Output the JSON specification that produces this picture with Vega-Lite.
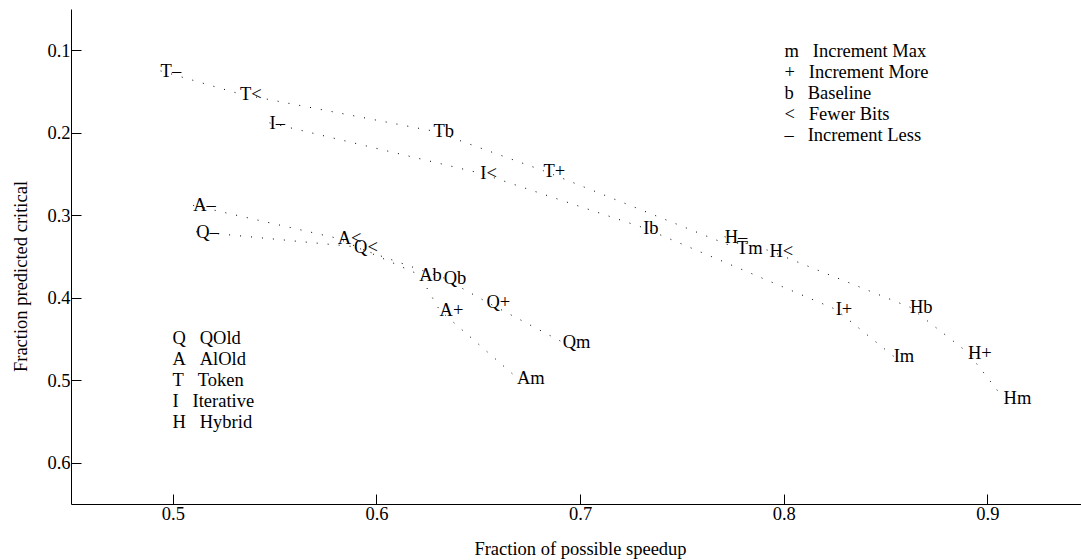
{
  "$schema": "https://vega.github.io/schema/vega-lite/v6.json",
  "width": 1010,
  "height": 495,
  "autosize": {"type": "none"},
  "padding": {"left": 71, "top": 9, "right": 0, "bottom": 56},
  "background": "white",
  "config": {
    "view": {"stroke": null},
    "font": "Liberation Serif",
    "axis": {
      "grid": false,
      "domainColor": "#000",
      "domainWidth": 1,
      "tickColor": "#000",
      "tickSize": -10,
      "tickWidth": 1,
      "labelFont": "Liberation Serif",
      "labelFontSize": 18.5,
      "labelColor": "#000",
      "titleFont": "Liberation Serif",
      "titleFontSize": 18.5,
      "titleFontWeight": "normal",
      "titleColor": "#000"
    },
    "legend": {
      "labelFont": "Liberation Serif",
      "labelFontSize": 18.5,
      "labelColor": "#000",
      "symbolSize": 0,
      "symbolStrokeWidth": 0,
      "symbolOpacity": 0,
      "labelOffset": 0,
      "padding": 0,
      "rowPadding": 2,
      "orient": "none"
    }
  },
  "data": {
    "values": [
      {"method": "Token", "variant": "Increment Less", "label": "T–", "speedup": 0.494, "critical": 0.125},
      {"method": "Token", "variant": "Fewer Bits", "label": "T<", "speedup": 0.533, "critical": 0.153},
      {"method": "Token", "variant": "Baseline", "label": "Tb", "speedup": 0.628, "critical": 0.198},
      {"method": "Token", "variant": "Increment More", "label": "T+", "speedup": 0.682, "critical": 0.246},
      {"method": "Token", "variant": "Increment Max", "label": "Tm", "speedup": 0.777, "critical": 0.340},
      {"method": "Iterative", "variant": "Increment Less", "label": "I–", "speedup": 0.5475, "critical": 0.188},
      {"method": "Iterative", "variant": "Fewer Bits", "label": "I<", "speedup": 0.651, "critical": 0.249},
      {"method": "Iterative", "variant": "Baseline", "label": "Ib", "speedup": 0.731, "critical": 0.315},
      {"method": "Iterative", "variant": "Increment More", "label": "I+", "speedup": 0.8255, "critical": 0.414},
      {"method": "Iterative", "variant": "Increment Max", "label": "Im", "speedup": 0.854, "critical": 0.471},
      {"method": "Hybrid", "variant": "Increment Less", "label": "H–", "speedup": 0.771, "critical": 0.326},
      {"method": "Hybrid", "variant": "Fewer Bits", "label": "H<", "speedup": 0.793, "critical": 0.343},
      {"method": "Hybrid", "variant": "Baseline", "label": "Hb", "speedup": 0.862, "critical": 0.4115},
      {"method": "Hybrid", "variant": "Increment More", "label": "H+", "speedup": 0.8905, "critical": 0.4665},
      {"method": "Hybrid", "variant": "Increment Max", "label": "Hm", "speedup": 0.908, "critical": 0.522},
      {"method": "AlOld", "variant": "Increment Less", "label": "A–", "speedup": 0.510, "critical": 0.288},
      {"method": "AlOld", "variant": "Fewer Bits", "label": "A<", "speedup": 0.581, "critical": 0.328},
      {"method": "AlOld", "variant": "Baseline", "label": "Ab", "speedup": 0.621, "critical": 0.372},
      {"method": "AlOld", "variant": "Increment More", "label": "A+", "speedup": 0.631, "critical": 0.415},
      {"method": "AlOld", "variant": "Increment Max", "label": "Am", "speedup": 0.669, "critical": 0.497},
      {"method": "QOld", "variant": "Increment Less", "label": "Q–", "speedup": 0.5115, "critical": 0.320},
      {"method": "QOld", "variant": "Fewer Bits", "label": "Q<", "speedup": 0.589, "critical": 0.338},
      {"method": "QOld", "variant": "Baseline", "label": "Qb", "speedup": 0.633, "critical": 0.376},
      {"method": "QOld", "variant": "Increment More", "label": "Q+", "speedup": 0.654, "critical": 0.405},
      {"method": "QOld", "variant": "Increment Max", "label": "Qm", "speedup": 0.6915, "critical": 0.454}
    ]
  },
  "encoding": {
    "x": {
      "field": "speedup",
      "type": "quantitative",
      "scale": {"domain": [0.45, 0.946], "nice": false, "zero": false},
      "axis": {
        "title": "Fraction of possible speedup",
        "values": [0.5, 0.6, 0.7, 0.8, 0.9],
        "format": ".1f",
        "labelPadding": 10,
        "titleX": 509,
        "titleY": 44,
        "titleBaseline": "middle",
        "titleAlign": "center"
      }
    },
    "y": {
      "field": "critical",
      "type": "quantitative",
      "scale": {"domain": [0.05, 0.65], "reverse": true, "nice": false, "zero": false},
      "axis": {
        "title": "Fraction predicted critical",
        "values": [0.1, 0.2, 0.3, 0.4, 0.5, 0.6],
        "format": ".1f",
        "labelPadding": 11,
        "titleX": -51,
        "titleY": 267,
        "titleBaseline": "middle",
        "titleAlign": "center"
      }
    }
  },
  "layer": [
    {
      "mark": {"type": "line", "strokeDash": [1, 10], "strokeWidth": 1},
      "encoding": {
        "color": {
          "field": "method",
          "type": "nominal",
          "sort": ["QOld", "AlOld", "Token", "Iterative", "Hybrid"],
          "scale": {"range": ["#000", "#000", "#000", "#000", "#000"]},
          "legend": {
            "title": null,
            "legendX": 83,
            "legendY": 320,
            "labelExpr": "substring(datum.label, 0, 1) + '\u00a0\u00a0\u00a0' + datum.label"
          }
        }
      }
    },
    {
      "mark": {"type": "text", "align": "left", "baseline": "middle", "fontSize": 18.5, "font": "Liberation Serif"},
      "encoding": {
        "text": {"field": "label"},
        "color": {
          "field": "variant",
          "type": "nominal",
          "sort": ["Increment Max", "Increment More", "Baseline", "Fewer Bits", "Increment Less"],
          "scale": {"range": ["#000", "#000", "#000", "#000", "#000"]},
          "legend": {
            "title": null,
            "legendX": 695,
            "legendY": 33,
            "labelExpr": "({'Increment Max': 'm', 'Increment More': '+', 'Baseline': 'b', 'Fewer Bits': '<', 'Increment Less': '–'})[datum.label] + '\u00a0\u00a0\u00a0' + datum.label"
          }
        }
      }
    }
  ],
  "resolve": {"scale": {"color": "independent"}}
}
